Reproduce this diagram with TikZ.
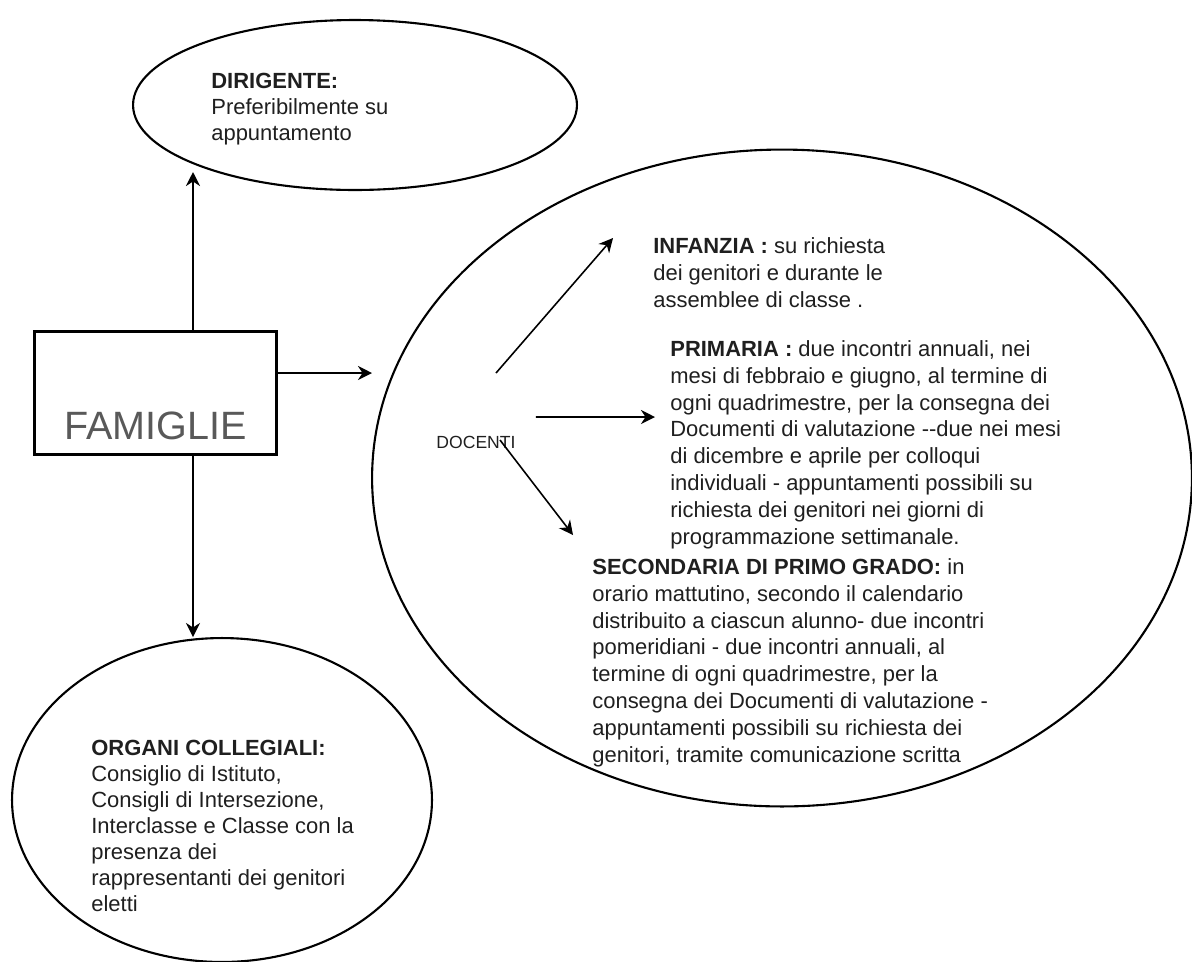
\documentclass[tikz,border=0pt]{standalone}
\usepackage{fontspec}
\setmainfont{Liberation Sans}
\usetikzlibrary{shapes.geometric,arrows.meta}

\begin{document}
\begin{tikzpicture}[x=0.02cm,y=-0.02cm,
    freccia/.style={-{Stealth[length=8pt,width=8pt]},line width=0.9pt},
    bolla/.style={draw,ellipse,line width=1.2pt,inner sep=0pt},
    testo/.style={anchor=north west,inner sep=0pt,align=left,
                  font=\fontsize{12.5}{14.8}\selectfont,text=black!88},
    testolargo/.style={testo,font=\fontsize{12.5}{15.3}\selectfont}]

    \useasboundingbox (0,0) rectangle (1192,961);

    % Define shapes
    \node[bolla,minimum width=8.88cm,minimum height=3.4cm] (dirigente) at (355,105) {};
    \node[bolla,minimum width=16.4cm,minimum height=13.14cm] (docentiarea) at (782,478) {};
    \node[bolla,minimum width=8.4cm,minimum height=6.48cm] (organi) at (222,800) {};
    \node[draw,line width=1.7pt,anchor=north west,inner sep=0pt,
          minimum width=4.84cm,text height=2.16cm,text depth=0.3cm,
          font=\fontsize{22.5}{24}\selectfont,text=black!65] (famiglie) at (33,330) {FAMIGLIE};

    % Define texts
    \node[testo] (dirtext) at (211,73)
        {\textbf{DIRIGENTE:}\\Preferibilmente su\\appuntamento};
    \node[font=\fontsize{10}{12}\selectfont,inner sep=0pt,text=black!88] (docenti) at (476,442) {DOCENTI};
    \node[testolargo] (inftext) at (653,237)
        {\textbf{INFANZIA :} su richiesta\\dei genitori e durante le\\assemblee di classe .};
    \node[testolargo] (pritext) at (670,340)
        {\textbf{PRIMARIA :} due incontri annuali, nei\\mesi di febbraio e giugno, al termine di\\ogni quadrimestre, per la consegna dei\\Documenti di valutazione -{}-due nei mesi\\di dicembre e aprile per colloqui\\individuali - appuntamenti possibili su\\richiesta dei genitori nei giorni di\\programmazione settimanale.};
    \node[testolargo] (sectext) at (592,558)
        {\textbf{SECONDARIA DI PRIMO GRADO:} in\\orario mattutino, secondo il calendario\\distribuito a ciascun alunno- due incontri\\pomeridiani - due incontri annuali, al\\termine di ogni quadrimestre, per la\\consegna dei Documenti di valutazione -\\appuntamenti possibili su richiesta dei\\genitori, tramite comunicazione scritta};
    \node[testo] (orgtext) at (91,740)
        {\textbf{ORGANI COLLEGIALI:}\\Consiglio di Istituto,\\Consigli di Intersezione,\\Interclasse e Classe con la\\presenza dei\\rappresentanti dei genitori\\eletti};

    % Arrow ends
    \coordinate (dirtip) at (193,172);
    \coordinate (orgtip) at (193,637);
    \coordinate (doctip) at (372,373);
    \coordinate (inftip) at (613,238);
    \coordinate (pritip) at (655,417);
    \coordinate (sectip) at (573,535);

    % Draw arrows
    \draw[freccia] (famiglie.north -| dirtip) -- (dirtip);
    \draw[freccia] (famiglie.south -| orgtip) -- (orgtip);
    \draw[freccia] (famiglie.east |- doctip) -- (doctip);
    \draw[freccia] ([xshift=0.4cm,yshift=1.38cm]docenti.center) -- (inftip);
    \draw[freccia] ([xshift=1.2cm,yshift=0.5cm]docenti.center) -- (pritip);
    \draw[freccia] ([xshift=0.48cm,yshift=0.04cm]docenti.center) -- (sectip);

\end{tikzpicture}
\end{document}
